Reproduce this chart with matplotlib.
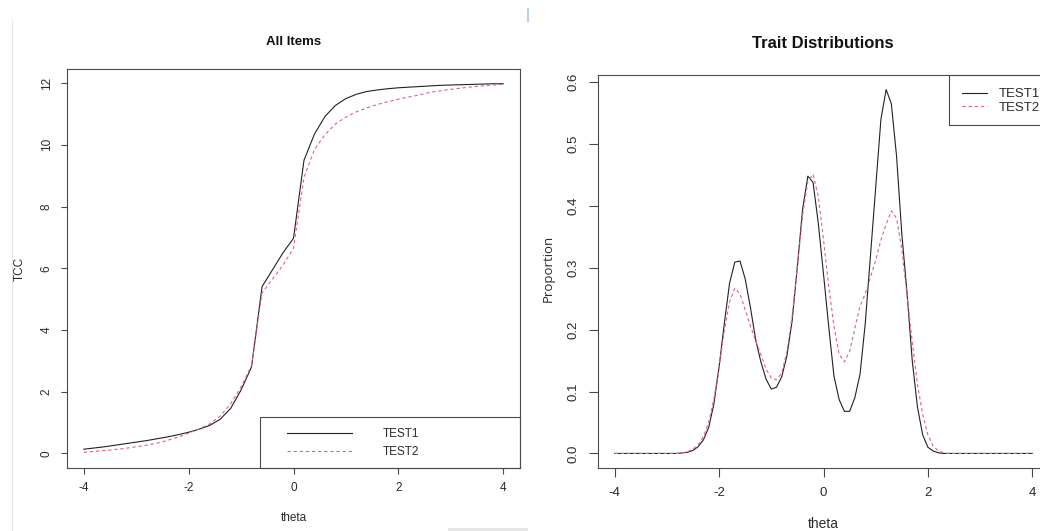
import matplotlib
matplotlib.use("Agg")
import matplotlib.pyplot as plt
from matplotlib.patches import Rectangle
from matplotlib.lines import Line2D
import numpy as np

# ---------------- data ----------------
# Test characteristic curves (theta grid step 0.2)
theta_tcc = [-4.0, -3.8, -3.6, -3.4, -3.2, -3.0, -2.8, -2.6, -2.4, -2.2,
             -2.0, -1.8, -1.6, -1.4, -1.2, -1.0, -0.8, -0.6, -0.4, -0.2,
             0.0, 0.2, 0.4, 0.6, 0.8, 1.0, 1.2, 1.4, 1.6, 1.8,
             2.0, 2.2, 2.4, 2.6, 2.8, 3.0, 3.2, 3.4, 3.6, 3.8, 4.0]
tcc_test1 = [0.13, 0.17, 0.21, 0.26, 0.31, 0.36, 0.41, 0.47, 0.53, 0.60,
             0.68, 0.78, 0.90, 1.10, 1.45, 2.05, 2.80, 5.40, 5.95, 6.50,
             6.97, 9.50, 10.35, 10.92, 11.28, 11.50, 11.64, 11.73, 11.78, 11.82,
             11.85, 11.87, 11.89, 11.91, 11.93, 11.94, 11.95, 11.96, 11.97, 11.98, 11.98]
tcc_test2 = [0.03, 0.06, 0.09, 0.12, 0.16, 0.21, 0.26, 0.33, 0.42, 0.52,
             0.65, 0.79, 0.95, 1.20, 1.60, 2.15, 2.85, 5.20, 5.65, 6.10,
             6.65, 8.95, 9.85, 10.33, 10.68, 10.90, 11.07, 11.20, 11.31, 11.40,
             11.48, 11.55, 11.62, 11.70, 11.75, 11.80, 11.84, 11.88, 11.91, 11.94, 11.96]

# Trait distributions (theta grid step 0.1)
theta_dist = [-4.0, -3.9, -3.8, -3.7, -3.6, -3.5, -3.4, -3.3, -3.2, -3.1,
              -3.0, -2.9, -2.8, -2.7, -2.6, -2.5, -2.4, -2.3, -2.2, -2.1,
              -2.0, -1.9, -1.8, -1.7, -1.6, -1.5, -1.4, -1.3, -1.2, -1.1,
              -1.0, -0.9, -0.8, -0.7, -0.6, -0.5, -0.4, -0.3, -0.2, -0.1,
              0.0, 0.1, 0.2, 0.3, 0.4, 0.5, 0.6, 0.7, 0.8, 0.9,
              1.0, 1.1, 1.2, 1.3, 1.4, 1.5, 1.6, 1.7, 1.8, 1.9,
              2.0, 2.1, 2.2, 2.3, 2.4, 2.5, 2.6, 2.7, 2.8, 2.9,
              3.0, 3.1, 3.2, 3.3, 3.4, 3.5, 3.6, 3.7, 3.8, 3.9, 4.0]
dist_test1 = [0, 0, 0, 0, 0, 0, 0, 0, 0, 0,
              0, 0, 0, 0.001, 0.002, 0.005, 0.011, 0.022, 0.042, 0.080,
              0.140, 0.210, 0.275, 0.309, 0.311, 0.282, 0.236, 0.184, 0.148, 0.120,
              0.104, 0.107, 0.124, 0.158, 0.215, 0.303, 0.395, 0.448, 0.438, 0.372,
              0.290, 0.205, 0.125, 0.087, 0.068, 0.068, 0.090, 0.128, 0.210, 0.320,
              0.430, 0.540, 0.588, 0.565, 0.480, 0.355, 0.260, 0.150, 0.075, 0.030,
              0.010, 0.004, 0.001, 0, 0, 0, 0, 0, 0, 0,
              0, 0, 0, 0, 0, 0, 0, 0, 0, 0, 0]
dist_test2 = [0, 0, 0, 0, 0, 0, 0, 0, 0, 0,
              0, 0, 0, 0.001, 0.003, 0.007, 0.014, 0.027, 0.050, 0.088,
              0.140, 0.198, 0.245, 0.267, 0.258, 0.232, 0.206, 0.182, 0.160, 0.136,
              0.122, 0.119, 0.130, 0.165, 0.222, 0.302, 0.385, 0.440, 0.451, 0.415,
              0.346, 0.270, 0.206, 0.160, 0.148, 0.165, 0.202, 0.238, 0.258, 0.285,
              0.312, 0.345, 0.370, 0.392, 0.380, 0.330, 0.255, 0.180, 0.112, 0.063,
              0.030, 0.012, 0.004, 0.001, 0, 0, 0, 0, 0, 0,
              0, 0, 0, 0, 0, 0, 0, 0, 0, 0, 0]

series_labels = ["TEST1", "TEST2"]
x_ticks = [-4, -2, 0, 2, 4]
tcc_ticks = [0, 2, 4, 6, 8, 10, 12]
dist_ticks = [0.0, 0.1, 0.2, 0.3, 0.4, 0.5, 0.6]

# ---------------- style ----------------
W, H = 1040, 531
plt.rcParams['font.family'] = ['Liberation Sans', 'DejaVu Sans']
BLACK = '#222222'
RED = '#E2647A'
FRAME = '#4a4a4a'
TXT = '#2b2b2b'
DASH = (0, (3, 2.5))

fig = plt.figure(figsize=(W / 100, H / 100), dpi=100)
fig.patch.set_facecolor('white')


def px_rect(l, t, r, b):
    return [l / W, 1 - b / H, (r - l) / W, (b - t) / H]


def style_axes(ax, fs, ticklen, pad):
    for s in ax.spines.values():
        s.set_color(FRAME)
        s.set_linewidth(0.8)
    ax.tick_params(axis='both', direction='out', length=ticklen, width=0.8,
                   color=FRAME, labelsize=fs, labelcolor=TXT, pad=pad)
    for lab in ax.get_yticklabels():
        lab.set_rotation(90)
        lab.set_va('center')


def rlim(vals):
    lo, hi = min(vals), max(vals)
    d = (hi - lo) * 0.04
    return lo - d, hi + d


# ---------------- left panel ----------------
ax1 = fig.add_axes(px_rect(67, 69, 520, 468))
ax1.plot(theta_tcc, tcc_test1, color=BLACK, lw=0.8, label=series_labels[0])
ax1.plot(theta_tcc, tcc_test2, color=RED, lw=0.8, linestyle=DASH,
         label=series_labels[1])
ax1.set_xlim(rlim(theta_tcc))
ax1.set_ylim(rlim([0] + tcc_test1 + tcc_test2))
ax1.set_xticks(x_ticks)
ax1.set_xticklabels([str(v) for v in x_ticks])
ax1.set_yticks(tcc_ticks)
ax1.set_yticklabels([str(v) for v in tcc_ticks])
style_axes(ax1, 8.5, 4.3, 6)
ax1.set_title("All Items", fontsize=9.5, fontweight='bold', color='#111111',
              x=0.5, y=(468 - 42) / 399, va='center', pad=0)
ax1.set_xlabel("theta", fontsize=8.5, color=TXT)
ax1.xaxis.set_label_coords(0.5, (468 - 518) / 399)
ax1.xaxis.label.set_va('center')
ax1.set_ylabel("TCC", fontsize=8.5, color=TXT)
ax1.yaxis.set_label_coords((20 - 67) / 453, 0.5)
ax1.yaxis.label.set_va('center')

# legend box (bottom right)
ax1.add_patch(Rectangle(((260 - 67) / 453, 0), (520 - 260) / 453, (468 - 417) / 399,
                        transform=ax1.transAxes, fill=False, edgecolor=FRAME,
                        linewidth=0.8, clip_on=False, zorder=3))
leg1 = ax1.legend(loc='center left', bbox_to_anchor=(287 / W, 1 - 443 / H),
                  bbox_transform=fig.transFigure, frameon=False, fontsize=8.5,
                  handlelength=5.5, handletextpad=2.6, borderpad=0,
                  labelspacing=0.55, borderaxespad=0)
for t in leg1.get_texts():
    t.set_color(TXT)

# ---------------- right panel ----------------
ax2 = fig.add_axes(px_rect(598, 75, 1049, 468))
ax2.plot(theta_dist, dist_test1, color=BLACK, lw=0.8, label=series_labels[0])
ax2.plot(theta_dist, dist_test2, color=RED, lw=0.8, linestyle=DASH,
         label=series_labels[1])
ax2.set_xlim(rlim(theta_dist))
ax2.set_ylim(rlim(dist_test1 + dist_test2))
ax2.set_xticks(x_ticks)
ax2.set_xticklabels([str(v) for v in x_ticks])
ax2.set_yticks(dist_ticks)
ax2.set_yticklabels([f"{v:.1f}" for v in dist_ticks])
style_axes(ax2, 9.5, 6.5, 7)
ax2.set_title("Trait Distributions", fontsize=12, fontweight='bold', color='#111111',
              x=(823 - 598) / 451, y=(468 - 43) / 393, va='center', pad=0)
ax2.set_xlabel("theta", fontsize=10, color=TXT)
ax2.xaxis.set_label_coords(0.5, (468 - 524) / 393)
ax2.xaxis.label.set_va('center')
ax2.set_ylabel("Proportion", fontsize=9.5, color=TXT, family=['Open Sans', 'DejaVu Sans'])
ax2.yaxis.set_label_coords((548 - 598) / 451, (468 - 268) / 393)
ax2.yaxis.label.set_va('center')

ax2.add_patch(Rectangle(((949 - 598) / 451, (468 - 125) / 393), (1060 - 949) / 451,
                        (125 - 75) / 393, transform=ax2.transAxes, fill=False,
                        edgecolor=FRAME, linewidth=0.8, clip_on=False, zorder=3))
leg2 = ax2.legend(loc='center left', bbox_to_anchor=(962 / W, 1 - 101 / H),
                  bbox_transform=fig.transFigure, frameon=False, fontsize=9.5,
                  handlelength=1.9, handletextpad=0.9, borderpad=0,
                  labelspacing=0.1, borderaxespad=0)
for t in leg2.get_texts():
    t.set_color(TXT)

# ---------------- screenshot artefacts ----------------
fig.add_artist(Line2D([12 / W, 12 / W], [1 - 20 / H, 0], transform=fig.transFigure,
                      color='#e9e9e9', lw=0.8))
fig.add_artist(Line2D([528 / W, 528 / W], [1 - 9 / H, 1 - 21 / H], transform=fig.transFigure,
                      color='#bcd3ea', lw=1.5))
fig.add_artist(Rectangle((448 / W, 0), (528 - 448) / W, 3 / H, transform=fig.transFigure,
                         facecolor='#e6e6e6', edgecolor='none'))

fig.savefig("out.png", dpi=100, facecolor='white')
